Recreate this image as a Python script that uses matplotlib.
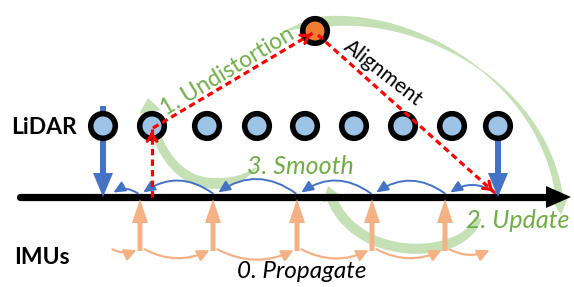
import numpy as np
import matplotlib.pyplot as plt
from matplotlib.patches import Circle, Polygon, FancyArrowPatch

plt.rcParams['font.family'] = ['Lato', 'DejaVu Sans']

# diagram positions (pixels, y down)
lidar_x = [103, 152, 207, 257, 305, 354, 403, 452, 498]
lidar_y = 126
imu_x = [140, 213, 297, 372, 445]
smooth_nodes = [110, 140, 215, 298, 373, 447, 498]
prop_nodes = [108, 140, 213, 297, 372, 445, 493]
line_y = 197

GREEN = '#c5e0b4'
TXT_GREEN = '#70ad47'
BLUE = '#4472c4'
ORANGE = '#f4b183'
LBLUE = '#9dc3e6'


def bezier(P, t):
    P = np.asarray(P, float)
    t = t[:, None]
    return ((1 - t) ** 3 * P[0] + 3 * (1 - t) ** 2 * t * P[1]
            + 3 * (1 - t) * t ** 2 * P[2] + t ** 3 * P[3])


def green_arrow(ax, P, prof_t, prof_w, head_w, head_l):
    t = np.linspace(0, 1, 400)
    pts = bezier(P, t)
    seg = np.hypot(*np.diff(pts, axis=0).T)
    s = np.concatenate([[0], np.cumsum(seg)])
    body = s <= s[-1] - head_l
    pts_b = pts[body]
    tang = np.gradient(pts_b, axis=0)
    tang /= np.hypot(tang[:, 0], tang[:, 1])[:, None]
    nrm = np.column_stack([-tang[:, 1], tang[:, 0]])
    w = np.interp(s[body] / s[-1], prof_t, prof_w)
    left = pts_b + nrm * w[:, None] / 2
    right = pts_b - nrm * w[:, None] / 2
    base = pts_b[-1]
    tip = pts[-1]
    d = (tip - base) / np.hypot(*(tip - base))
    n = np.array([-d[1], d[0]])
    head = [base + n * head_w / 2, tip, base - n * head_w / 2]
    poly = np.vstack([left, head, right[::-1]])
    ax.add_patch(Polygon(poly, closed=True, facecolor=GREEN, edgecolor='none', zorder=0))


fig = plt.figure(figsize=(5.74, 2.87), dpi=100)
ax = fig.add_axes([0, 0, 1, 1])
ax.set_xlim(0, 574)
ax.set_ylim(287, 0)
ax.axis('off')

# green process arrows
green_arrow(ax, [(283, 32), (380, -10), (555, 70), (561, 215)],
            [0, 0.1, 0.3, 0.55, 0.8, 1], [0, 11, 7, 1.2, 6, 8], 16, 16)
green_arrow(ax, [(478, 218), (465, 262), (345, 265), (328, 186)],
            [0, 0.2, 1], [7, 10, 10], 20, 14)
green_arrow(ax, [(256, 168), (225, 195), (160, 195), (148, 98)],
            [0, 0.25, 0.6, 1], [2, 11, 9, 8], 22, 14)

# time axis
ax.plot([20, 550], [line_y, line_y], color='black', lw=5.2, solid_capstyle='round', zorder=2)
ax.add_patch(Polygon([(546, 186), (571, line_y), (546, 208)], closed=True,
                     facecolor='black', edgecolor='none', zorder=2))

# LiDAR update arrows
for x, y0 in [(lidar_x[0], 106), (lidar_x[-1], 112)]:
    ax.arrow(x, y0, 0, line_y - y0, width=6, head_width=20, head_length=24,
             length_includes_head=True, color=BLUE, lw=0, zorder=3)

# IMU arrows
for x in imu_x:
    ax.arrow(x, 251, 0, -(251 - line_y - 2), width=5, head_width=16, head_length=24,
             length_includes_head=True, color=ORANGE, lw=0, zorder=3)

# propagate arcs
for a, b in zip(prop_nodes[:-1], prop_nodes[1:]):
    ax.add_patch(FancyArrowPatch((a + 2, 248), (b - 1, 249),
                                 connectionstyle='arc3,rad=0.27',
                                 arrowstyle='-|>,head_length=7,head_width=3.5',
                                 color=ORANGE, lw=1.6, zorder=3))

# smooth arcs
for a, b in zip(smooth_nodes[1:], smooth_nodes[:-1]):
    ax.add_patch(FancyArrowPatch((a, 195), (b + 1, 194),
                                 connectionstyle='arc3,rad=0.37',
                                 arrowstyle='-|>,head_length=7,head_width=3.2',
                                 color=BLUE, lw=1.4, zorder=3))

# LiDAR scans
for x in lidar_x:
    ax.add_patch(Circle((x, lidar_y), 12.3, facecolor=LBLUE, edgecolor='black', lw=4, zorder=4))
ax.add_patch(Circle((315, 31), 12.3, facecolor='#ed7d31', edgecolor='black', lw=4, zorder=4))

# red dashed links
red_paths = [((152, line_y), (152, 129)), ((153, 128), (313, 33)), ((318, 35), (495, 193))]
for (x0, y0), (x1, y1) in red_paths:
    ax.plot([x0, x1], [y0, y1], color='red', lw=2.3, ls=(0, (2, 1.3)), zorder=5)
    d = np.array([x1 - x0, y1 - y0], float)
    d /= np.hypot(*d)
    ax.annotate('', xy=(x1, y1), xytext=(x1 - d[0] * 8, y1 - d[1] * 8),
                arrowprops=dict(arrowstyle='->,head_length=0.5,head_width=0.35',
                                color='red', lw=2.2), zorder=5)

# labels
ax.text(44, 128, 'LiDAR', fontsize=16.5, fontweight='bold', ha='center', va='center')
ax.text(42, 257, 'IMUs', fontsize=16.5, fontweight='bold', ha='center', va='center')
ax.text(228, 71, '1. Undistortion', fontsize=16.5, color=TXT_GREEN, rotation=31,
        rotation_mode='anchor', ha='center', va='center')
ax.text(383, 73, 'Alignment', fontsize=15, color='black', rotation=-38,
        rotation_mode='anchor', ha='center', va='center')
ax.text(300, 167, '3. Smooth', fontsize=18, style='italic', color=TXT_GREEN,
        ha='center', va='center')
ax.text(518, 221, '2. Update', fontsize=18, style='italic', color=TXT_GREEN,
        ha='center', va='center')
ax.text(302, 272, '0. Propagate', fontsize=17.5, style='italic', color='black',
        ha='center', va='center')

fig.savefig('out.png', dpi=100)
